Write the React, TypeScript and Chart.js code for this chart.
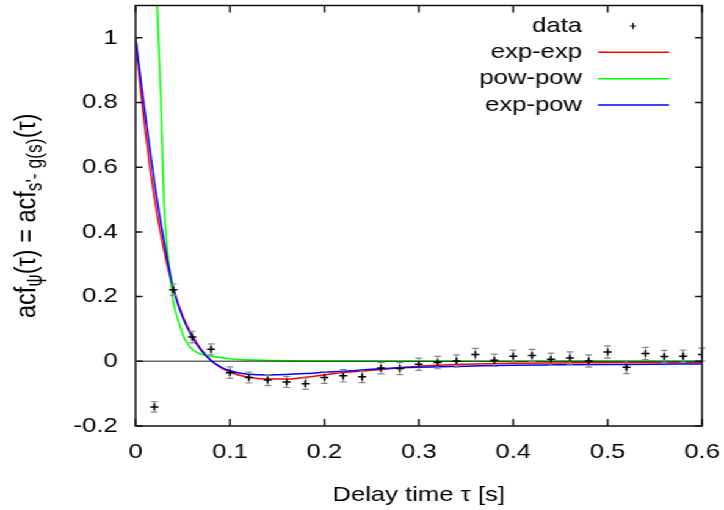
import React, { useEffect, useRef } from "react";
import { Chart, registerables } from "chart.js";

Chart.register(...registerables);

// ---- data ----
const dataX = [0.02, 0.04, 0.06, 0.08, 0.1, 0.12, 0.14, 0.16, 0.18, 0.2, 0.22, 0.24, 0.26, 0.28, 0.3, 0.32, 0.34, 0.36, 0.38, 0.4, 0.42, 0.44, 0.46, 0.48, 0.5, 0.52, 0.54, 0.56, 0.58, 0.6];
const dataY = [-0.141, 0.221, 0.075, 0.037, -0.035, -0.05, -0.058, -0.064, -0.069, -0.05, -0.045, -0.048, -0.021, -0.022, -0.009, -0.004, 0.001, 0.021, 0.003, 0.016, 0.018, 0.006, 0.01, 0.001, 0.029, -0.018, 0.024, 0.015, 0.016, 0.021];
const dataErr = [0.016, 0.018, 0.018, 0.017, 0.018, 0.017, 0.017, 0.017, 0.018, 0.018, 0.019, 0.018, 0.018, 0.019, 0.019, 0.019, 0.019, 0.019, 0.019, 0.019, 0.019, 0.019, 0.019, 0.019, 0.019, 0.02, 0.019, 0.019, 0.019, 0.02];

const fitX = [0, 0.005, 0.01, 0.015, 0.02, 0.025, 0.03, 0.035, 0.04, 0.05, 0.06, 0.07, 0.08, 0.09, 0.1, 0.11, 0.12, 0.14, 0.16, 0.18, 0.2, 0.22, 0.24, 0.26, 0.28, 0.3, 0.35, 0.4, 0.45, 0.5, 0.55, 0.6];
const expExpY = [1.0, 0.85, 0.72, 0.605, 0.505, 0.42, 0.345, 0.28, 0.225, 0.14, 0.08, 0.035, 0.003, -0.019, -0.033, -0.043, -0.049, -0.055, -0.055, -0.049, -0.042, -0.035, -0.03, -0.025, -0.02, -0.015, -0.009, -0.006, -0.005, -0.004, -0.004, -0.003];
const expPowY = [1.0, 0.885, 0.77, 0.66, 0.555, 0.46, 0.375, 0.295, 0.225, 0.135, 0.075, 0.032, 0.002, -0.017, -0.029, -0.036, -0.04, -0.042, -0.041, -0.038, -0.034, -0.031, -0.027, -0.023, -0.02, -0.018, -0.015, -0.012, -0.011, -0.01, -0.009, -0.008];
const powPowX = [0.02, 0.023, 0.027, 0.03, 0.035, 0.04, 0.047, 0.052, 0.059, 0.065, 0.071, 0.086, 0.1, 0.135, 0.2, 0.3, 0.4, 0.5, 0.6];
const powPowY = [1.33, 1.095, 0.8, 0.5, 0.31, 0.185, 0.11, 0.07, 0.04, 0.028, 0.021, 0.013, 0.008, 0.003, 0.001, 0, 0, 0, 0];

const xTicks = [0, 0.1, 0.2, 0.3, 0.4, 0.5, 0.6];
const xTickLabels = ["0", "0.1", "0.2", "0.3", "0.4", "0.5", "0.6"];
const yTicks = [-0.2, 0, 0.2, 0.4, 0.6, 0.8, 1];
const yTickLabels = ["-0.2", "0", "0.2", "0.4", "0.6", "0.8", "1"];

const legendLabels = ["data", "exp-exp", "pow-pow", "exp-pow"];
const seriesColors = ["#000000", "#ff0000", "#00ff00", "#0000ff"];
const xTitle = "Delay time τ [s]";
const yTitleParts: [string, boolean][] = [
  ["acf", false],
  ["ψ", true],
  ["(τ) = acf", false],
  ["s'- g(s)", true],
  ["(τ)", false],
];

// ---- layout ----
const STRETCH = 724 / 593;
const CW = 593;
const CH = 510;
const FONT = "'Liberation Sans', Arial, Helvetica, sans-serif";

const toPts = (xs: number[], ys: number[]) => xs.map((x, i) => ({ x, y: ys[i] }));

const zeroPad = (s: any) => {
  s.paddingLeft = 0;
  s.paddingRight = 0;
  s.paddingTop = 0;
  s.paddingBottom = 0;
};

const decorPlugin = {
  id: "gnuplotDecor",
  beforeDatasetDraw(chart: any, args: any) {
    if (args.index !== 0) return;
    const ctx = chart.ctx;
    const xs = chart.scales.x;
    const ys = chart.scales.y;
    ctx.save();
    ctx.strokeStyle = "#8a8a8a";
    ctx.lineWidth = 1.2;
    const cap = 2.8;
    for (let i = 0; i < dataX.length; i++) {
      const px = xs.getPixelForValue(dataX[i]);
      const lo = ys.getPixelForValue(dataY[i] - dataErr[i]);
      const hi = ys.getPixelForValue(dataY[i] + dataErr[i]);
      ctx.beginPath();
      ctx.moveTo(px, lo);
      ctx.lineTo(px, hi);
      ctx.moveTo(px - cap, lo);
      ctx.lineTo(px + cap, lo);
      ctx.moveTo(px - cap, hi);
      ctx.lineTo(px + cap, hi);
      ctx.stroke();
    }
    ctx.restore();
  },
  afterDatasetDraw(chart: any, args: any) {
    if (args.index !== 2) return;
    const ctx = chart.ctx;
    const { left, right } = chart.chartArea;
    const y0 = chart.scales.y.getPixelForValue(0);
    ctx.save();
    ctx.strokeStyle = "rgba(0,0,0,0.6)";
    ctx.lineWidth = 1.6;
    ctx.beginPath();
    ctx.moveTo(left, y0);
    ctx.lineTo(right, y0);
    ctx.stroke();
    ctx.restore();
  },
  afterDraw(chart: any) {
    const ctx = chart.ctx;
    const { left: L, right: R, top: T, bottom: B } = chart.chartArea;
    const xs = chart.scales.x;
    const ys = chart.scales.y;
    ctx.save();
    // border
    ctx.strokeStyle = "#111";
    ctx.lineWidth = 1.5;
    ctx.strokeRect(L, T, R - L, B - T);
    // inward ticks on all sides
    const tlh = 7 / STRETCH;
    const tlv = 7;
    ctx.beginPath();
    yTicks.forEach((v) => {
      const y = ys.getPixelForValue(v);
      ctx.moveTo(L, y);
      ctx.lineTo(L + tlh, y);
      ctx.moveTo(R, y);
      ctx.lineTo(R - tlh, y);
    });
    xTicks.forEach((v) => {
      const x = xs.getPixelForValue(v);
      ctx.moveTo(x, B);
      ctx.lineTo(x, B - tlv);
      ctx.moveTo(x, T);
      ctx.lineTo(x, T + tlv);
    });
    ctx.stroke();

    // legend
    const rows = [26, 52.3, 78.7, 105];
    const textRight = 582 / STRETCH;
    const lx0 = 598 / STRETCH;
    const lx1 = 669 / STRETCH;
    const mx = 633 / STRETCH;
    ctx.font = `21px ${FONT}`;
    ctx.fillStyle = "#000";
    ctx.textAlign = "right";
    ctx.textBaseline = "middle";
    legendLabels.forEach((lab, i) => {
      const y = rows[i];
      ctx.fillText(lab, textRight, y);
      if (i === 0) {
        ctx.strokeStyle = "#000";
        ctx.lineWidth = 1;
        ctx.beginPath();
        ctx.moveTo(mx - 2.6, y);
        ctx.lineTo(mx + 2.6, y);
        ctx.moveTo(mx, y - 3.2);
        ctx.lineTo(mx, y + 3.2);
        ctx.stroke();
      } else {
        ctx.strokeStyle = seriesColors[i];
        ctx.lineWidth = 1.5;
        ctx.beginPath();
        ctx.moveTo(lx0, y);
        ctx.lineTo(lx1, y);
        ctx.stroke();
      }
    });

    // x title
    ctx.textAlign = "center";
    ctx.textBaseline = "alphabetic";
    ctx.fillStyle = "#000";
    ctx.font = `21px ${FONT}`;
    ctx.fillText(xTitle, (L + R) / 2, 501);

    // y title (rotated, with subscripts)
    const mainFont = `23.5px ${FONT}`;
    const subFont = `17.5px ${FONT}`;
    let total = 0;
    const widths = yTitleParts.map(([t, sub]) => {
      ctx.font = sub ? subFont : mainFont;
      const w = ctx.measureText(t).width;
      total += w;
      return w;
    });
    ctx.translate(35 / STRETCH, (T + B) / 2);
    ctx.rotate(-Math.PI / 2);
    ctx.textAlign = "left";
    let cx = -total / 2;
    yTitleParts.forEach(([t, sub], i) => {
      ctx.font = sub ? subFont : mainFont;
      ctx.fillText(t, cx, sub ? 5 : 0);
      cx += widths[i];
    });
    ctx.restore();
  },
};

export default function App() {
  const ref = useRef<HTMLCanvasElement | null>(null);

  useEffect(() => {
    if (!ref.current) return;
    const chart = new Chart(ref.current, {
      type: "scatter",
      data: {
        datasets: [
          {
            label: legendLabels[0],
            data: toPts(dataX, dataY),
            showLine: false,
            pointStyle: "cross",
            pointRadius: 3.3,
            pointBorderWidth: 1.5,
            borderColor: seriesColors[0],
            backgroundColor: seriesColors[0],
          },
          {
            label: legendLabels[3],
            data: toPts(fitX, expPowY),
            showLine: true,
            pointRadius: 0,
            borderWidth: 1.5,
            borderColor: seriesColors[3],
            cubicInterpolationMode: "monotone",
          },
          {
            label: legendLabels[2],
            data: toPts(powPowX, powPowY),
            showLine: true,
            pointRadius: 0,
            borderWidth: 1.5,
            borderColor: seriesColors[2],
            cubicInterpolationMode: "monotone",
          },
          {
            label: legendLabels[1],
            data: toPts(fitX, expExpY),
            showLine: true,
            pointRadius: 0,
            borderWidth: 1.5,
            borderColor: seriesColors[1],
            cubicInterpolationMode: "monotone",
          },
        ],
      },
      options: {
        animation: false,
        responsive: false,
        events: [],
        layout: { padding: { top: 5, right: 18, left: 0, bottom: 0 } },
        plugins: { legend: { display: false }, tooltip: { enabled: false }, title: { display: false } },
        scales: {
          x: {
            type: "linear",
            min: 0,
            max: 0.6,
            grid: { display: false, drawTicks: false },
            border: { display: false },
            afterBuildTicks: (s: any) => {
              s.ticks = xTicks.map((v) => ({ value: v }));
            },
            afterFit: (s: any) => {
              s.height = 84;
              zeroPad(s);
            },
            ticks: {
              padding: 14,
              maxRotation: 0,
              autoSkip: false,
              color: "#000",
              font: { family: FONT, size: 21 },
              callback: (_v: any, i: number) => xTickLabels[i],
            },
          },
          y: {
            type: "linear",
            min: -0.2,
            max: 1.1,
            grid: { display: false, drawTicks: false },
            border: { display: false },
            afterBuildTicks: (s: any) => {
              s.ticks = yTicks.map((v) => ({ value: v }));
            },
            afterFit: (s: any) => {
              s.width = 111;
              zeroPad(s);
            },
            ticks: {
              padding: 14.5,
              autoSkip: false,
              color: "#000",
              font: { family: FONT, size: 21 },
              callback: (_v: any, i: number) => yTickLabels[i],
            },
          },
        },
      },
      plugins: [decorPlugin],
    });
    return () => chart.destroy();
  }, []);

  return (
    <div
      style={{
        position: "absolute",
        left: 0,
        top: 0,
        width: CW,
        height: CH,
        transform: `scaleX(${STRETCH})`,
        transformOrigin: "0 0",
        background: "#fff",
      }}
    >
      <canvas ref={ref} width={CW} height={CH} style={{ display: "block" }} />
    </div>
  );
}
